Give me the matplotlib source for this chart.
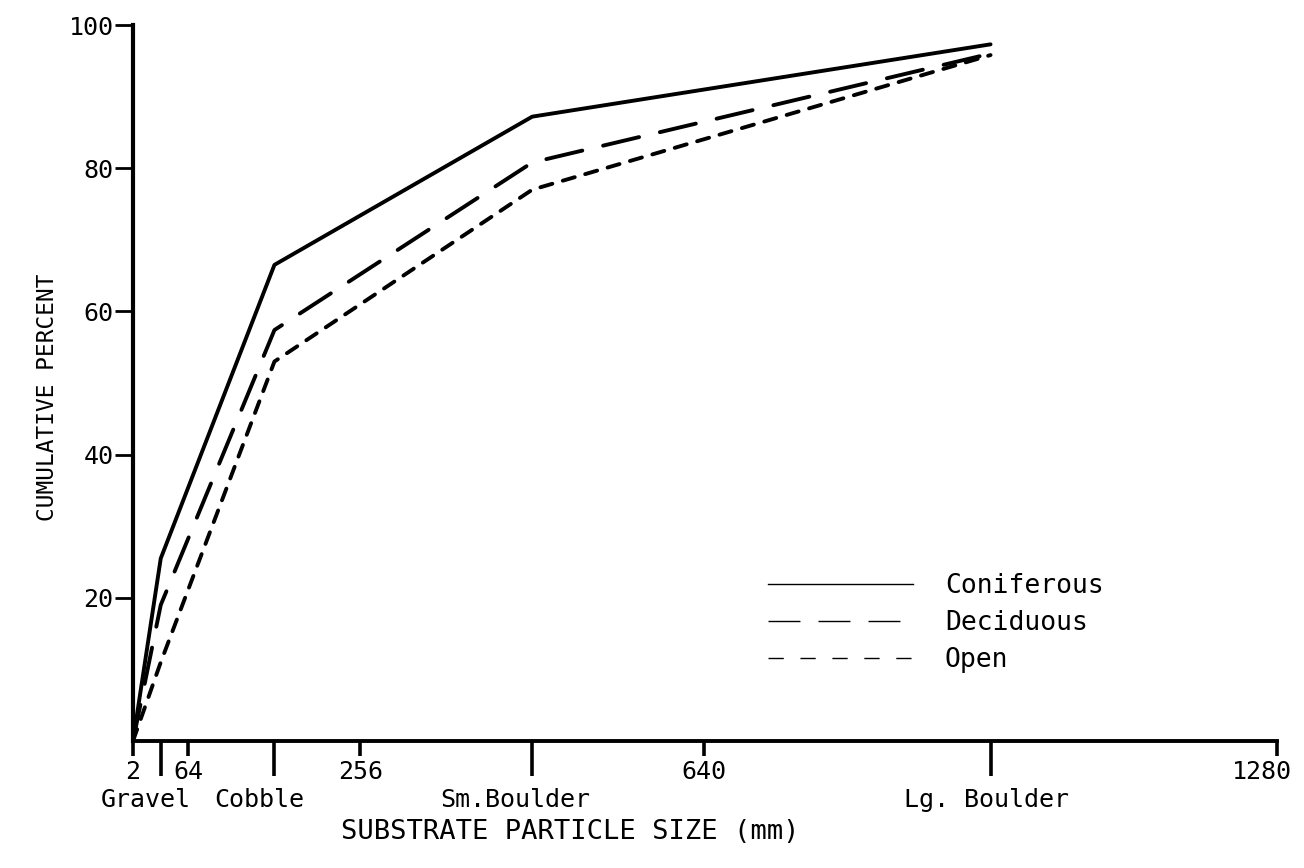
import matplotlib
matplotlib.use("Agg")
import matplotlib.pyplot as plt
from matplotlib.lines import Line2D
from matplotlib.transforms import ScaledTranslation

# class midpoints (mm) where the cumulative values are plotted
size_mid = [2, 33, 160, 448, 960]
coniferous = [0, 25.5, 66.5, 87.2, 97.3]
deciduous = [0, 19, 57.4, 80.8, 96.0]
open_site = [0, 11, 53, 77, 95.8]

size_ticks = [2, 64, 256, 640, 1280]
class_ticks = [33, 160, 448, 960]
class_names = ["Gravel", "Cobble", "Sm.Boulder", "Lg. Boulder"]
class_label_x = [16, 143, 429, 956]
pct_ticks = [20, 40, 60, 80, 100]

mono = "DejaVu Sans Mono"
plt.rcParams['font.family'] = [mono]

fig = plt.figure(figsize=(13.04, 8.68), dpi=100)
ax = fig.add_axes([133/1304, 1-741/868, (1277-133)/1304, (741-25)/868])

lw = 2.8
ax.plot(size_mid, coniferous, color="black", lw=lw, solid_capstyle="round",
        solid_joinstyle="round")
ax.plot(size_mid, deciduous, color="black", lw=lw, dashes=(9.5, 5.5),
        dash_capstyle="round")
ax.plot(size_mid, open_site, color="black", lw=lw, dashes=(3.2, 2.8),
        dash_capstyle="round")

ax.set_xlim(2, 1280)
ax.set_ylim(0, 100)
ax.spines["top"].set_visible(False)
ax.spines["right"].set_visible(False)
ax.spines["left"].set_linewidth(3.0)
ax.spines["bottom"].set_linewidth(2.8)

ax.set_xticks(size_ticks)
ax.set_xticklabels([str(s) for s in size_ticks], fontsize=18)
ax.set_xticks(class_ticks, minor=True)
ax.tick_params(axis="x", which="major", length=11, width=2.6, pad=3,
               direction="out")
ax.tick_params(axis="x", which="minor", length=25, width=2.6, direction="out")
ax.set_yticks(pct_ticks)
ax.set_yticklabels([str(p) for p in pct_ticks], fontsize=18)
ax.tick_params(axis="y", length=13, width=2.0, pad=1, direction="out")

# the last size label sits a little left of its tick
last = ax.get_xticklabels()[-1]
last.set_transform(last.get_transform()
                   + ScaledTranslation(-0.15, 0, fig.dpi_scale_trans))

for xpos, name in zip(class_label_x, class_names):
    ax.text(xpos, -0.082, name, transform=ax.get_xaxis_transform(),
            ha="center", va="center", fontsize=18)

fig.text(570/1304, 1-832/868, "SUBSTRATE PARTICLE SIZE (mm)", ha="center",
         va="center", fontsize=19.5)
fig.text(48/1304, 1-397/868, "CUMULATIVE PERCENT", ha="center", va="center",
         rotation=90, fontsize=16.4)

handles = [
    Line2D([], [], color="black", lw=1.0),
    Line2D([], [], color="black", lw=1.0, dashes=(23, 13)),
    Line2D([], [], color="black", lw=1.0, dashes=(11, 12)),
]
ax.legend(handles, ["Coniferous", "Deciduous", "Open"], frameon=False,
          loc="upper left", bbox_to_anchor=(768/1304, 1-573/868),
          bbox_transform=fig.transFigure, fontsize=19, handlelength=5.5,
          handletextpad=1.2, labelspacing=0.42, borderpad=0, borderaxespad=0)

fig.savefig("out.png", dpi=100)
